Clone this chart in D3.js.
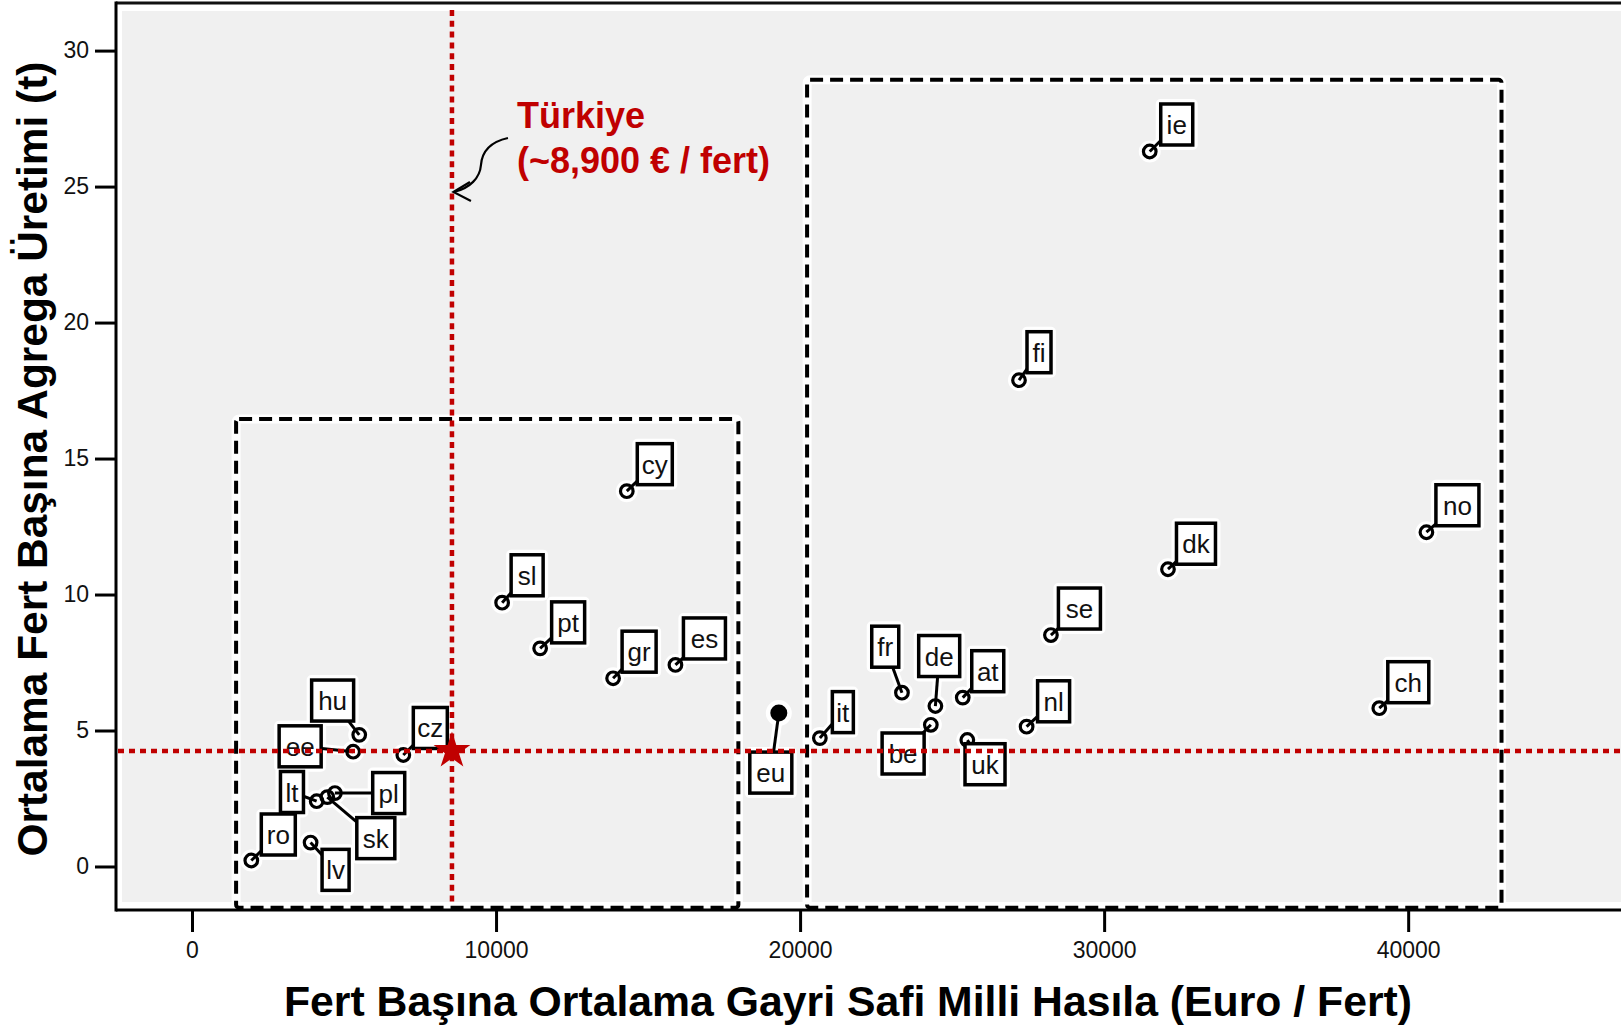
<!DOCTYPE html>
<html>
<head>
<meta charset="utf-8">
<script src="https://cdn.jsdelivr.net/npm/d3@7"></script>
<style>
  html, body { margin: 0; padding: 0; background: #ffffff; }
  svg { display: block; font-family: "Liberation Sans", Arial, "DejaVu Sans", sans-serif; }
</style>
</head>
<body>
<svg id="chart" width="1621" height="1027"></svg>
<script>
// ---------------- data ----------------
const codes = ["ro","lv","lt","sk","pl","ee","hu","cz","sl","pt","gr","cy","es","eu","it","fr","be","de","at","uk","fi","nl","se","dk","ie","ch","no"];
const gdpPerCapita = [1950,3900,4100,4450,4700,5300,5500,6950,10200,11450,13850,14300,15900,19300,20650,23350,24300,24450,25350,25500,27200,27450,28250,32100,31500,39050,40600];
const aggregatePerCapita = [0.22,0.88,2.4,2.55,2.7,4.22,4.84,4.1,9.7,8.02,6.92,13.8,7.41,5.64,4.72,6.39,5.21,5.9,6.21,4.65,17.88,5.14,8.51,10.93,26.29,5.82,12.29];
const aggregateCode = "eu";

const xTicks = [0, 10000, 20000, 30000, 40000];
const yTicks = [0, 5, 10, 15, 20, 25, 30];

const turkeyGdp = 8550;
const turkeyAggregate = 4.25;
const turkeyLabel = ["Türkiye", "(~8,900 € / fert)"];

// group boxes (dashed)
const groupX0 = [1450, 20230];
const groupX1 = [17970, 43070];
const groupYTop = [16.45, 28.93];
const groupYBottom = [-1.52, -1.52];

const xTitle = "Fert Başına Ortalama Gayri Safi Milli Hasıla (Euro / Fert)";
const yTitle = "Ortalama Fert Başına Agrega Üretimi (t)";

// ---------------- layout (label box offsets: dx, dy of box centre from point, box width) ----------------
const labelLayout = {
  ie:[27,-27,32], no:[31,-27,43], ch:[29,-26,41], fi:[20,-28,24], dk:[28,-25.5,39],
  se:[28.5,-26.5,42], cy:[28,-27,35], sl:[25,-27.4,32], pt:[28,-26,33], gr:[26,-26.6,34],
  es:[29,-26.5,42], eu:[-8,59.5,42], it:[23,-26,21], fr:[-16.7,-46,27], de:[3.8,-50,41],
  at:[25,-26.4,32], be:[-27.7,28.7,42], uk:[17.7,24.2,40], nl:[27,-25.4,32], hu:[-26.6,-34.3,42],
  ee:[-53,-5.4,42], cz:[27,-27,34], lt:[-24.7,-9.2,23], pl:[53.8,0,32], sk:[48.5,41,38],
  ro:[27,-26,34], lv:[25,27.3,27]
};
const boxH = 41;

const svg = d3.select("#chart");
const plotLeft = 116, plotRight = 1621, plotTop = 3, plotBottom = 910;

const x = d3.scaleLinear().domain([-2500, 47000]).range([plotLeft, plotRight]);
const y = d3.scaleLinear().domain([-1.6, 31.75]).range([plotBottom, plotTop]);

const RED = "#c00000";

// panel background
svg.append("rect").attr("x", plotLeft + 6).attr("y", plotTop + 8)
  .attr("width", plotRight - plotLeft - 6).attr("height", plotBottom - plotTop - 16)
  .attr("fill", "#f0f0f0");

// group boxes (dashed) with white halo
const gb = svg.append("g");
groupX0.forEach((gx0, i) => {
  const rx = x(gx0), ry = y(groupYTop[i]);
  const rw = x(groupX1[i]) - rx, rh = y(groupYBottom[i]) - ry;
  gb.append("rect").attr("x", rx).attr("y", ry).attr("width", rw).attr("height", rh)
    .attr("fill", "none").attr("stroke", "#ffffff").attr("stroke-width", 9).attr("rx", 3);
  gb.append("rect").attr("x", rx).attr("y", ry).attr("width", rw).attr("height", rh)
    .attr("fill", "none").attr("stroke", "#000").attr("stroke-width", 4)
    .attr("stroke-dasharray", "13,7").attr("rx", 3);
});

// frame lines
svg.append("line").attr("x1", plotLeft).attr("x2", plotRight).attr("y1", plotTop).attr("y2", plotTop)
  .attr("stroke", "#111").attr("stroke-width", 3);
svg.append("line").attr("x1", plotLeft).attr("x2", plotLeft).attr("y1", plotTop - 1.5).attr("y2", plotBottom + 1.5)
  .attr("stroke", "#000").attr("stroke-width", 3);
svg.append("line").attr("x1", plotLeft).attr("x2", plotRight).attr("y1", plotBottom).attr("y2", plotBottom)
  .attr("stroke", "#000").attr("stroke-width", 3);

// axes
const yAxis = svg.append("g").attr("transform", `translate(${plotLeft},0)`)
  .call(d3.axisLeft(y).tickValues(yTicks).tickSize(21).tickPadding(6).tickFormat(d3.format("d")));
const xAxis = svg.append("g").attr("transform", `translate(0,${plotBottom})`)
  .call(d3.axisBottom(x).tickValues(xTicks).tickSize(22).tickPadding(10).tickFormat(d3.format("d")));
[yAxis, xAxis].forEach(a => {
  a.select(".domain").remove();
  a.selectAll(".tick line").attr("stroke", "#000").attr("stroke-width", 3);
  a.selectAll(".tick text").attr("fill", "#111").attr("font-size", 23)
    .attr("font-family", "'Liberation Sans', Arial, sans-serif");
});

// points data
const pts = codes.map((c, i) => ({ code: c, gx: gdpPerCapita[i], ay: aggregatePerCapita[i] }));

const halo = svg.append("g");
const marks = svg.append("g");

pts.forEach(p => {
  const px = x(p.gx), py = y(p.ay);
  const L = labelLayout[p.code];
  const cx = px + L[0], cy = py + L[1], bw = L[2];
  halo.append("line").attr("x1", px).attr("y1", py).attr("x2", cx).attr("y2", cy)
    .attr("stroke", "#fff").attr("stroke-width", 9);
  halo.append("circle").attr("cx", px).attr("cy", py).attr("r", p.code === aggregateCode ? 9 : 7)
    .attr("fill", "#fff").attr("stroke", "#fff").attr("stroke-width", 8);
  halo.append("rect").attr("x", cx - bw / 2).attr("y", cy - boxH / 2).attr("width", bw).attr("height", boxH)
    .attr("fill", "#fff").attr("stroke", "#fff").attr("stroke-width", 10).attr("stroke-linejoin", "round");
});

pts.forEach(p => {
  const px = x(p.gx), py = y(p.ay);
  const L = labelLayout[p.code];
  const cx = px + L[0], cy = py + L[1], bw = L[2];
  marks.append("line").attr("x1", px).attr("y1", py).attr("x2", cx).attr("y2", cy)
    .attr("stroke", "#000").attr("stroke-width", 3);
  if (p.code === aggregateCode) {
    marks.append("circle").attr("cx", px).attr("cy", py).attr("r", 8.5).attr("fill", "#000");
  } else {
    marks.append("circle").attr("cx", px).attr("cy", py).attr("r", 6.3)
      .attr("fill", "none").attr("stroke", "#000").attr("stroke-width", 3.2);
  }
  marks.append("rect").attr("x", cx - bw / 2).attr("y", cy - boxH / 2).attr("width", bw).attr("height", boxH)
    .attr("fill", "#fff").attr("stroke", "#000").attr("stroke-width", 3.5);
  marks.append("text").attr("x", cx).attr("y", cy + 9.5).attr("text-anchor", "middle")
    .attr("font-size", 26).attr("fill", "#111").text(p.code);
});

// Türkiye reference lines
const tx = x(turkeyGdp), ty = y(turkeyAggregate);
svg.append("line").attr("x1", tx).attr("x2", tx).attr("y1", plotTop + 7).attr("y2", plotBottom - 5)
  .attr("stroke", RED).attr("stroke-width", 4.5).attr("stroke-dasharray", "6,4.8");
svg.append("line").attr("x1", plotLeft + 2).attr("x2", plotRight).attr("y1", ty).attr("y2", ty)
  .attr("stroke", RED).attr("stroke-width", 4.5).attr("stroke-dasharray", "6,5");
svg.append("path").attr("d", d3.symbol(d3.symbolStar, 420)())
  .attr("transform", `translate(${tx},${ty})`).attr("fill", RED);

// annotation
const ann = svg.append("g");
ann.append("text").attr("x", tx + 65).attr("y", 128).attr("font-size", 36).attr("font-weight", "bold")
  .attr("fill", RED).text(turkeyLabel[0]);
ann.append("text").attr("x", tx + 65).attr("y", 173).attr("font-size", 36).attr("font-weight", "bold")
  .attr("fill", RED).text(turkeyLabel[1]);
const tipY = y(24.8);
ann.append("path")
  .attr("d", `M${tx + 56},138 C${tx + 38},142 ${tx + 30},152 ${tx + 29},165 C${tx + 28},178 ${tx + 18},188 ${tx + 2},${tipY}`)
  .attr("fill", "none").attr("stroke", "#000").attr("stroke-width", 2.2);
ann.append("path")
  .attr("d", `M${tx + 18},${tipY - 10} L${tx + 1.5},${tipY} L${tx + 19},${tipY + 9}`)
  .attr("fill", "none").attr("stroke", "#000").attr("stroke-width", 2.2);

// axis titles
svg.append("text").attr("x", 848).attr("y", 1016).attr("text-anchor", "middle")
  .attr("font-size", 43).attr("font-weight", "bold").attr("fill", "#000")
  .attr("textLength", 1128).attr("lengthAdjust", "spacingAndGlyphs").text(xTitle);
svg.append("text").attr("transform", "translate(47,459) rotate(-90)").attr("text-anchor", "middle")
  .attr("font-size", 42).attr("font-weight", "bold").attr("fill", "#000")
  .attr("textLength", 795).attr("lengthAdjust", "spacingAndGlyphs").text(yTitle);
</script>
</body>
</html>
